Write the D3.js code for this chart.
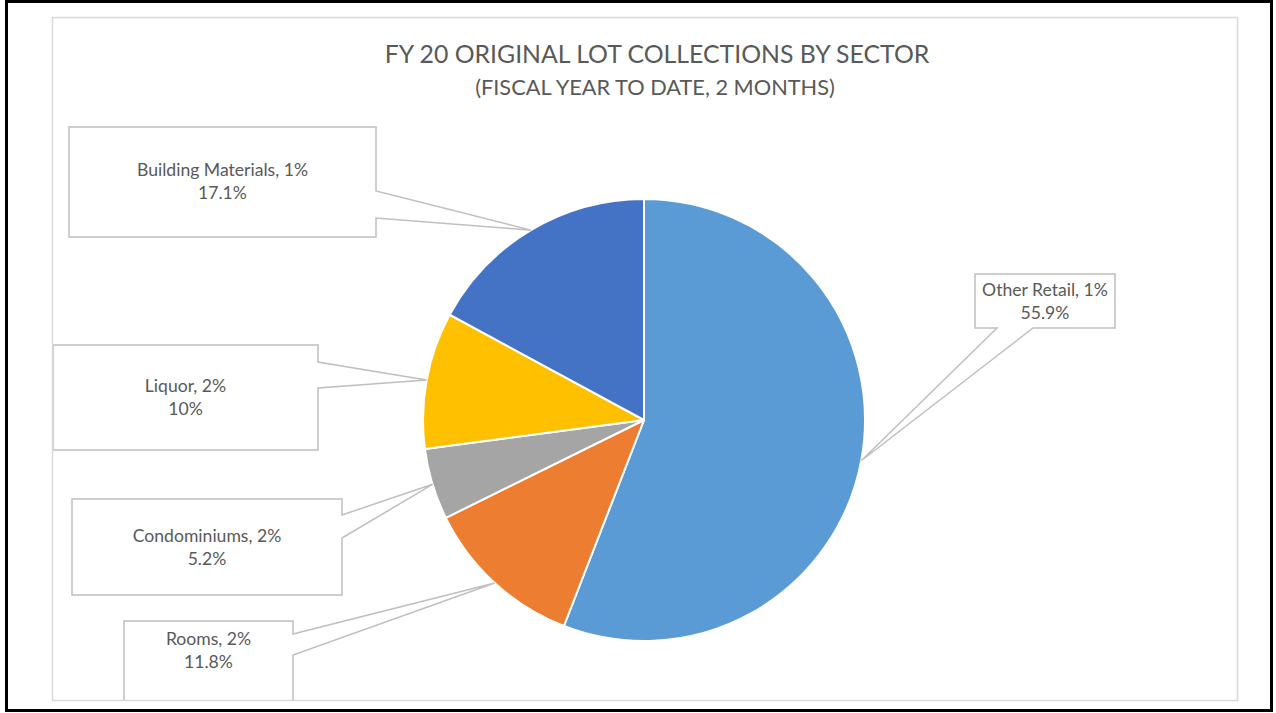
<!DOCTYPE html>
<html>
<head>
<meta charset="utf-8">
<script src="https://cdn.jsdelivr.net/npm/d3@7/dist/d3.min.js"></script>
<style>
  html, body { margin: 0; padding: 0; background: #ffffff; }
  svg { display: block; }
  text { font-family: Lato, "Open Sans", sans-serif; fill: #595959; }
</style>
</head>
<body>
<svg id="chart" width="1276" height="713"></svg>
<script>
// ---- data ----
const categories = ["Other Retail", "Rooms", "Condominiums", "Liquor", "Building Materials"];
const shares = [55.9, 11.8, 5.2, 10, 17.1];           // % of collections
const rateLabels = ["1%", "2%", "2%", "2%", "1%"];     // rate shown in the callout
const shareLabels = ["55.9%", "11.8%", "5.2%", "10%", "17.1%"];
const colors = ["#5B9BD5", "#ED7D31", "#A5A5A5", "#FFC000", "#4472C4"];
const titleText = "FY 20 ORIGINAL LOT COLLECTIONS BY SECTOR";
const subtitleText = "(FISCAL YEAR TO DATE, 2 MONTHS)";

// ---- layout (positions only) ----
const plot = { x: 52, y: 17, w: 1185, h: 683 };
const pie = { cx: 644, cy: 420, r: 221 };
const callouts = [
  { x: 975, y: 274, w: 140, h: 54, side: "bottom", a: 22, b: 58, ty: 296 },
  { x: 124, y: 621, w: 169, h: 110, side: "right", a: 13, b: 34, ty: 645 },
  { x: 72,  y: 499, w: 270, h: 96,  side: "right", a: 16, b: 39, ty: 542 },
  { x: 53,  y: 345, w: 265, h: 105, side: "right", a: 17, b: 43, ty: 392 },
  { x: 69,  y: 127, w: 307, h: 110, side: "right", a: 64, b: 91, ty: 176 }
];

const svg = d3.select("#chart");

function fit(sel, target) {
  const len = sel.node().getComputedTextLength();
  const fs = parseFloat(sel.style("font-size"));
  const nfs = fs * target / len;
  sel.style("font-size", nfs + "px");
  return nfs;
}

// outer black frame
svg.append("rect").attr("x", 6.5).attr("y", 1.5).attr("width", 1265).attr("height", 709)
  .attr("fill", "#fff").attr("stroke", "#000").attr("stroke-width", 3);

svg.append("defs").append("clipPath").attr("id", "plotclip")
  .append("rect").attr("x", plot.x).attr("y", plot.y).attr("width", plot.w).attr("height", plot.h);

const g = svg.append("g").attr("clip-path", "url(#plotclip)");

// pie
const pieGen = d3.pie().sort(null).value(d => d)(shares);
const arc = d3.arc().innerRadius(0).outerRadius(pie.r);
const edgeArc = d3.arc().innerRadius(pie.r).outerRadius(pie.r);
const pg = g.append("g").attr("transform", `translate(${pie.cx},${pie.cy})`);
pg.selectAll("path").data(pieGen).enter().append("path")
  .attr("d", arc).attr("fill", (d, i) => colors[i])
  .attr("stroke", "#fff").attr("stroke-width", 2).attr("stroke-linejoin", "round");

// measure label font size
const probe = svg.append("text").style("font-size", "16px").text(`${categories[4]}, ${rateLabels[4]}`);
const fontLabel = fit(probe, 171);
probe.remove();

// callouts
pieGen.forEach((d, i) => {
  const c = callouts[i];
  const [tx0, ty0] = edgeArc.centroid(d);
  const tx = tx0 + pie.cx, ty = ty0 + pie.cy;
  const x0 = c.x, y0 = c.y, x1 = c.x + c.w, y1 = c.y + c.h;
  let p;
  if (c.side === "right") {
    p = `M${x0},${y0}H${x1}V${y0 + c.a}L${tx},${ty}L${x1},${y0 + c.b}V${y1}H${x0}Z`;
  } else {
    p = `M${x0},${y0}H${x1}V${y1}H${x0 + c.b}L${tx},${ty}L${x0 + c.a},${y1}H${x0}Z`;
  }
  g.append("path").attr("d", p).attr("fill", "#fff")
    .attr("stroke", "#BFBFBF").attr("stroke-width", 1.5).attr("stroke-linejoin", "miter");
  const cx = (x0 + x1) / 2;
  const t = g.append("text").attr("text-anchor", "middle").style("font-size", fontLabel + "px");
  t.append("tspan").attr("x", cx).attr("y", c.ty).text(`${categories[i]}, ${rateLabels[i]}`);
  t.append("tspan").attr("x", cx).attr("y", c.ty + 23).text(shareLabels[i]);
});

// chart area border
svg.append("rect").attr("x", plot.x + 0.5).attr("y", plot.y + 0.5).attr("width", plot.w).attr("height", plot.h)
  .attr("fill", "none").attr("stroke", "#D9D9D9").attr("stroke-width", 1.5);

// titles
const t1 = svg.append("text").attr("x", 657).attr("y", 63).attr("text-anchor", "middle")
  .style("font-size", "24px").text(titleText);
fit(t1, 545);
const t2 = svg.append("text").attr("x", 655).attr("y", 95).attr("text-anchor", "middle")
  .style("font-size", "19px").text(subtitleText);
fit(t2, 360);
</script>
</body>
</html>
